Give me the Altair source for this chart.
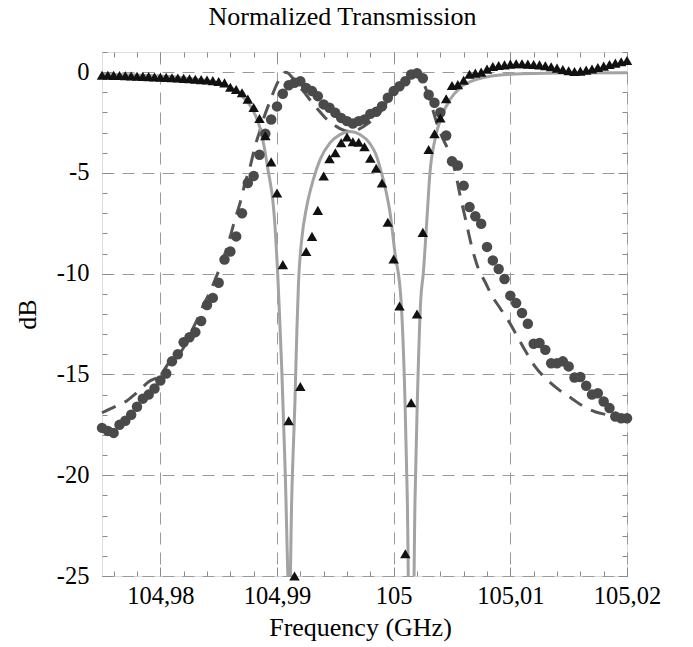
import altair as alt
import pandas as pd

# ---------------- data ----------------
# measured sampling grid (GHz), step 0.5 MHz
freq = [round(104.975 + 0.0005 * i, 4) for i in range(91)]

# measured transmission (triangles), dB
s21_meas = [
    -0.15, -0.15, -0.16, -0.17, -0.18, -0.19, -0.20, -0.21, -0.22, -0.24,
    -0.25, -0.26, -0.28, -0.29, -0.31, -0.33, -0.35, -0.37, -0.39, -0.42,
    -0.46, -0.53, -0.75, -0.86, -1.02, -1.34, -1.75, -2.30, -3.15, -4.45,
    -6.00, -9.55, -17.3, -25.0, -15.6, -8.90, -8.15, -6.86, -5.15, -4.30,
    -4.00, -3.50, -3.22, -3.45, -3.48, -3.70, -4.27, -4.77, -5.50, -7.45,
    -9.27, -11.6, -23.9, -16.4, -12.0, -7.95, -3.84, -3.06, -2.27, -1.32,
    -0.66, -0.62, -0.40, -0.10, -0.05, 0.00, 0.15, 0.28, 0.33, 0.36,
    0.40, 0.42, 0.42, 0.40, 0.38, 0.36, 0.32, 0.27, 0.20, 0.13,
    0.07, 0.03, 0.05, 0.10, 0.16, 0.23, 0.30, 0.38, 0.45, 0.52,
    0.58,
]

# measured reflection (circles), dB
s11_meas = [
    -17.65, -17.8, -17.9, -17.5, -17.3, -17.0, -16.6, -16.2, -16.0, -15.7,
    -15.3, -14.95, -14.35, -14.0, -13.4, -13.15, -12.9, -12.35, -11.55, -11.2,
    -10.45, -9.3, -8.9, -8.15, -7.0, -5.5, -5.15, -4.1, -3.05, -2.35,
    -1.7, -1.07, -0.65, -0.53, -0.45, -0.78, -0.94, -1.19, -1.6, -1.77,
    -2.02, -2.27, -2.43, -2.55, -2.43, -2.35, -2.07, -1.97, -1.69, -1.27,
    -0.94, -0.7, -0.45, -0.12, -0.05, -0.3, -1.12, -1.52, -2.0, -3.14,
    -4.42, -4.63, -5.63, -6.69, -7.15, -7.52, -8.67, -9.34, -9.77, -10.26,
    -11.09, -11.46, -11.95, -12.48, -13.48, -13.44, -13.78, -14.44, -14.44, -14.35,
    -14.6, -15.15, -15.13, -15.56, -16.0, -15.93, -16.34, -16.67, -17.09, -17.17,
    -17.17,
]

# simulated transmission (solid grey line)
sim21_freq = [
    104.975, 104.97826, 104.98083, 104.98297, 104.98469, 104.9858, 104.98666,
    104.98726, 104.98769, 104.98811, 104.98854, 104.98897, 104.98925, 104.9894,
    104.98963, 104.98983, 104.99003, 104.99017, 104.9904, 104.99069, 104.99107,
    104.99126, 104.99154, 104.99171, 104.99184, 104.99212, 104.99255, 104.99311,
    104.99369, 104.99454, 104.9954, 104.99626, 104.99711, 104.99797, 104.99849,
    104.99891, 104.99934, 104.99969, 105.00011, 105.00063, 105.00097, 105.00117,
    105.0015, 105.00183, 105.00203, 105.00232, 105.00254, 105.00283, 105.00311,
    105.00354, 105.00412, 105.00483, 105.00569, 105.00712, 105.00997, 105.01426,
    105.02,
]
sim21_db = [
    -0.10, -0.15, -0.22, -0.35, -0.50, -0.70, -1.00,
    -1.35, -1.65, -2.10, -2.76, -3.92, -4.92, -5.40,
    -6.30, -7.65, -9.64, -11.4, -14.6, -19.6, -26.5,
    -21.2, -16.3, -12.7, -10.5, -8.30, -6.66, -5.33,
    -4.34, -3.51, -3.10, -2.95, -3.09, -3.55, -4.10,
    -4.90, -5.90, -6.98, -8.97, -11.3, -16.3, -21.2,
    -36.0, -21.2, -16.3, -11.3, -9.97, -7.48, -5.00,
    -3.34, -2.18, -1.36, -0.78, -0.36, -0.11, -0.04,
    -0.03,
]

# simulated reflection (dashed dark line)
sim11_freq = [
    104.975, 104.97611, 104.97714, 104.97809, 104.97903, 104.97997, 104.981,
    104.98186, 104.98254, 104.98314, 104.98366, 104.98409, 104.98469, 104.98511,
    104.98554, 104.98597, 104.9864, 104.98683, 104.98726, 104.98769, 104.98811,
    104.98854, 104.98897, 104.9894, 104.98983, 104.99026, 104.99077, 104.99129,
    104.9918, 104.9924, 104.993, 104.99351, 104.99411, 104.99471, 104.9954,
    104.99626, 104.99694, 104.99754, 104.99814, 104.99883, 104.99951, 105.00011,
    105.00071, 105.00114, 105.00166, 105.00217, 105.0026, 105.00311, 105.00363,
    105.00414, 105.00466, 105.00526, 105.00569, 105.0062, 105.00671, 105.00723,
    105.00783, 105.00843, 105.00911, 105.0098, 105.01049, 105.01126, 105.01211,
    105.01323, 105.01426, 105.01528, 105.01631, 105.01726, 105.01828, 105.01897,
    105.02,
]
sim11_db = [
    -16.9, -16.6, -16.3, -15.85, -15.35, -15.05, -14.2,
    -13.8, -13.0, -12.3, -11.6, -11.1, -10.3, -9.7,
    -9.0, -8.2, -7.3, -6.5, -5.5, -4.7, -3.7,
    -2.9, -2.1, -1.45, -0.8, -0.3, 0.0, -0.25,
    -0.65, -1.05, -1.5, -1.85, -2.25, -2.55, -2.8,
    -2.95, -2.85, -2.65, -2.4, -2.0, -1.4, -0.9,
    -0.45, -0.15, 0.0, -0.2, -0.6, -1.4, -2.4,
    -3.2, -3.85, -4.9, -6.1, -7.4, -8.7, -9.7,
    -10.4, -11.1, -11.7, -12.3, -13.0, -13.8, -14.6,
    -15.3, -15.8, -16.2, -16.6, -16.85, -17.0, -17.1,
    -17.25,
]

# axis ticks
x_major = [104.98, 104.99, 105.0, 105.01, 105.02]
x_minor = [round(104.976 + 0.002 * k, 3) for k in range(23)]
y_major = [-25, -20, -15, -10, -5, 0]
y_minor = list(range(-25, 2))

# ---------------- chart ----------------
W, H = 525, 524
FONT = "Liberation Serif"

meas = pd.DataFrame({"f": freq, "s21": s21_meas, "s11": s11_meas})
sim21 = pd.DataFrame({"f": sim21_freq, "db": sim21_db})
sim11 = pd.DataFrame({"f": sim11_freq, "db": sim11_db})

xs = alt.Scale(domain=[104.975, 105.02], nice=False, zero=False)
ys = alt.Scale(domain=[-25, 1], nice=False, zero=False)

x_major_test = "abs(datum.value*100 - round(datum.value*100)) < 0.01"
y_major_test = "datum.value % 5 == 0"

x_main_axis = alt.Axis(
    values=x_major,
    labelExpr="replace(format(datum.value, '.2~f'), '.', ',')",
    labelFont=FONT, labelFontSize=24.5, labelColor="black", labelPadding=8,
    labelFlush=False, labelOverlap=False,
    ticks=False, domain=False,
    grid=True, gridColor="#9a9a9a", gridDash=[12, 8], gridWidth=1,
    title="Frequency (GHz)", titleFont=FONT, titleFontSize=26,
    titleFontWeight="normal", titleColor="black",
    titleX=258, titleY=59, titleBaseline="alphabetic",
)
y_main_axis = alt.Axis(
    values=y_major,
    labelExpr="'' + datum.value",
    labelFont=FONT, labelFontSize=24.5, labelColor="black", labelPadding=13,
    labelFlush=False, labelOverlap=False,
    ticks=False, domain=False,
    grid=True, gridColor="#9a9a9a", gridDash=[12, 8], gridWidth=1,
    title="dB", titleFont=FONT, titleFontSize=26, titleFontWeight="normal",
    titleColor="black", titleAngle=270, titleX=-67, titleY=262,
    titleAlign="center", titleBaseline="alphabetic",
)


def tick_axis(orient, offset, values, test):
    return alt.Axis(
        orient=orient, offset=offset, values=values,
        labels=False, domain=False, grid=False, ticks=True,
        tickColor="#8a8a8a", tickWidth=1,
        tickSize={"condition": {"test": test, "value": 9}, "value": 5},
    )


dashed = alt.Chart(sim11).mark_line(
    color="#555555", strokeWidth=3, strokeDash=[15, 10], interpolate="monotone"
).encode(
    x=alt.X("f:Q", scale=xs, axis=x_main_axis),
    y=alt.Y("db:Q", scale=ys, axis=y_main_axis),
)

solid = alt.Chart(sim21).mark_line(
    color="#a3a3a3", strokeWidth=3, interpolate="monotone", clip=True
).encode(
    x=alt.X("f:Q", scale=xs, title=None,
            axis=tick_axis("top", -H, x_minor, x_major_test)),
    y=alt.Y("db:Q", scale=ys, title=None,
            axis=tick_axis("right", -W, y_minor, y_major_test)),
)

circles = alt.Chart(meas).mark_point(
    shape="circle", filled=True, size=110, color="#4a4a4a", opacity=1
).encode(
    x=alt.X("f:Q", scale=xs, title=None,
            axis=tick_axis("bottom", -H, x_minor, x_major_test)),
    y=alt.Y("s11:Q", scale=ys, title=None,
            axis=tick_axis("left", -W, y_minor, y_major_test)),
)

triangles = alt.Chart(meas).mark_point(
    shape="triangle-up", filled=True, size=110, color="#111111", opacity=1
).encode(
    x=alt.X("f:Q", scale=xs, axis=None),
    y=alt.Y("s21:Q", scale=ys, axis=None),
)

chart = alt.layer(dashed, solid, circles, triangles).resolve_axis(
    x="independent", y="independent"
).properties(
    width=W, height=H,
    title=alt.TitleParams(
        "Normalized Transmission", font=FONT, fontSize=26, fontWeight="normal",
        color="black", anchor="middle", frame="group", dx=-22, dy=24, offset=25,
        baseline="alphabetic",
    ),
    autosize=alt.AutoSizeParams(type="none"),
    padding={"left": 102, "top": 52, "right": 66, "bottom": 71},
).configure_view(
    stroke="#8a8a8a", strokeWidth=1.5
).configure(background="white")

chart.save("out.html", embed_options={"renderer": "svg", "actions": False})
